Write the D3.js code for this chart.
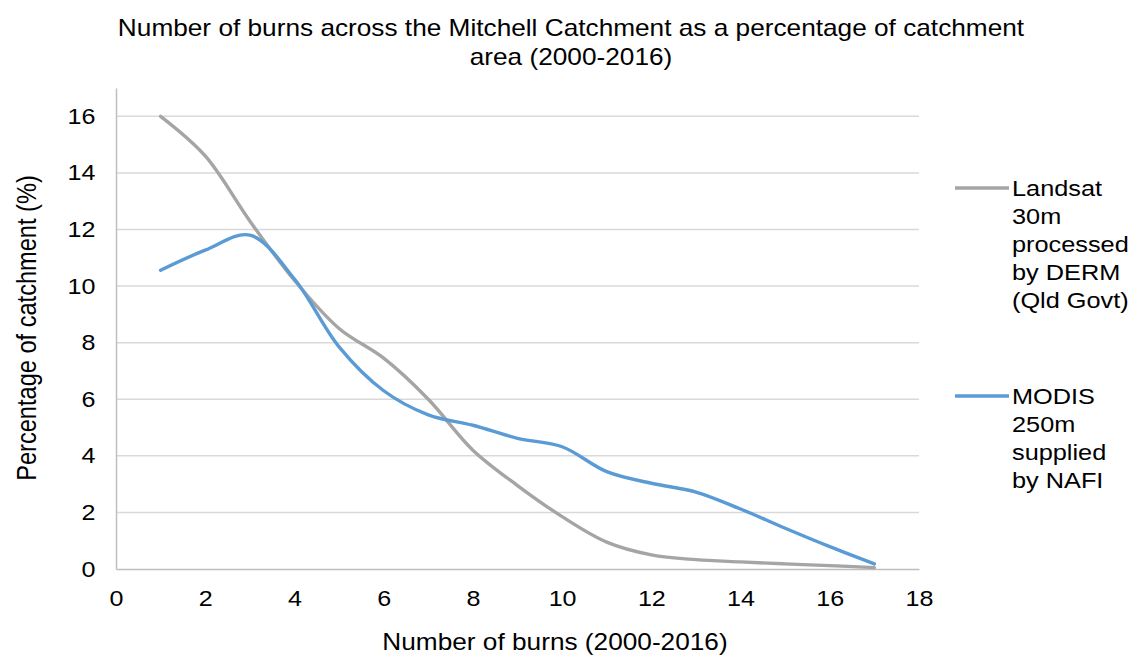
<!DOCTYPE html>
<html><head><meta charset="utf-8">
<script src="https://cdn.jsdelivr.net/npm/d3@7"></script>
<style>body{margin:0;background:#fff;} svg{display:block;font-family:"Liberation Sans",Arial,sans-serif;}</style>
</head><body>
<svg id="c" width="1133" height="657"></svg>
<script>
const burns = [1,2,3,4,5,6,7,8,9,10,11,12,13,14,15,16,17];
const landsat = [16.0,14.6,12.3,10.2,8.5,7.45,6.0,4.2,2.95,1.85,0.95,0.5,0.33,0.25,0.18,0.12,0.05];
const modis = [10.56,11.27,11.8,10.25,7.85,6.3,5.45,5.08,4.62,4.32,3.44,3.03,2.72,2.12,1.44,0.79,0.18];
const xTicks = [0,2,4,6,8,10,12,14,16,18];
const yTicks = [0,2,4,6,8,10,12,14,16];
const seriesNames = [["Landsat","30m","processed","by DERM","(Qld Govt)"],["MODIS","250m","supplied","by NAFI"]];
const colors = ["#a5a5a5","#5b9bd5"];
const SX = 1.14; // horizontal stretch of the reference rendering

const svg = d3.select("#c");
const x = d3.scaleLinear().domain([0,18]).range([116,919]);
const y = d3.scaleLinear().domain([0,17]).range([569,88]);

// gridlines
svg.append("g").selectAll("line").data(yTicks.filter(d=>d>0)).join("line")
  .attr("x1",x(0)).attr("x2",x(18)).attr("y1",d=>y(d)).attr("y2",d=>y(d))
  .attr("stroke","#d9d9d9").attr("stroke-width",1.5);

// axes
const xAxis = svg.append("g").attr("transform",`translate(0,${y(0)})`)
  .call(d3.axisBottom(x).tickValues(xTicks).tickSize(0).tickPadding(21));
xAxis.select(".domain").attr("stroke","#bfbfbf").attr("stroke-width",1.5);
xAxis.selectAll("text").attr("font-size",22).attr("fill","#000")
  .attr("font-family","Liberation Sans, Arial, sans-serif").attr("transform",`scale(${SX},1)`);

const yAxis = svg.append("g").attr("transform",`translate(${x(0)},0)`)
  .call(d3.axisLeft(y).tickValues(yTicks).tickSize(0).tickPadding(18));
yAxis.select(".domain").attr("stroke","#bfbfbf").attr("stroke-width",1.5);
yAxis.selectAll("text").attr("font-size",22).attr("fill","#000")
  .attr("font-family","Liberation Sans, Arial, sans-serif").attr("transform",`scale(${SX},1)`);

const line = d3.line().x((d,i)=>x(burns[i])).y(d=>y(d)).curve(d3.curveCatmullRom.alpha(0.5));
[landsat, modis].forEach((s,k)=>{
  svg.append("path").datum(s).attr("d",line).attr("fill","none")
    .attr("stroke",colors[k]).attr("stroke-width",3.4).attr("stroke-linecap","round").attr("stroke-linejoin","round");
});

// title
const tg = svg.append("g").attr("transform",`translate(571,0) scale(${SX},1)`);
const title = tg.append("text").attr("text-anchor","middle").attr("font-size",23).attr("fill","#000");
title.append("tspan").attr("x",0).attr("y",36).text("Number of burns across the Mitchell Catchment as a percentage of catchment");
title.append("tspan").attr("x",0).attr("y",65).text("area (2000-2016)");

svg.append("g").attr("transform",`translate(555,650) scale(${SX},1)`)
  .append("text").attr("text-anchor","middle").attr("font-size",23)
  .text("Number of burns (2000-2016)");
svg.append("g").attr("transform",`translate(36,328) scale(${SX},1) rotate(-90)`)
  .append("text").attr("text-anchor","middle").attr("font-size",23.6)
  .text("Percentage of catchment (%)");

// legend
const legY = [188, 396];
seriesNames.forEach((names,k)=>{
  svg.append("line").attr("x1",955).attr("x2",1009).attr("y1",legY[k]).attr("y2",legY[k])
    .attr("stroke",colors[k]).attr("stroke-width",3.4);
  const g = svg.append("g").attr("transform",`translate(1012,0) scale(${SX},1)`);
  const t = g.append("text").attr("font-size",22.2).attr("fill","#000");
  names.forEach((n,i)=>t.append("tspan").attr("x",0).attr("y",legY[k]+8+i*28).text(n));
});
</script>
</body></html>
